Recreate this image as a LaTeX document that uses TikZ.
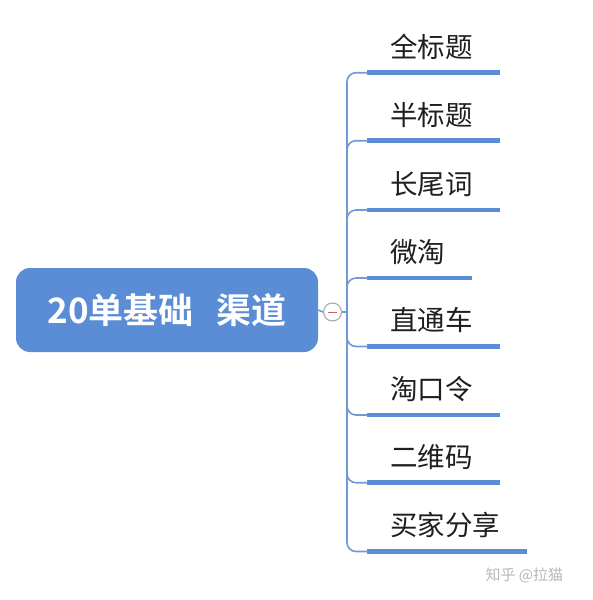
\documentclass[tikz,border=0pt]{standalone}
\usepackage{fontspec}
\newfontfamily\cjk{Noto Sans CJK SC}
\newfontfamily\cjkbold{Noto Sans CJK SC Bold}
\definecolor{mainblue}{HTML}{5A8DD6}
\definecolor{linkblue}{HTML}{7099D6}
\definecolor{ringgray}{HTML}{9AA6BC}
\definecolor{minusred}{HTML}{D06060}
\tikzset{
  rootbox/.style={fill=mainblue, draw=none, rounded corners=14pt, minimum width=302pt, minimum height=84pt, inner sep=0pt, text=white, font=\cjkbold\fontsize{35}{35}\selectfont},
  topic/.style={anchor=south west, minimum height=54pt, inner ysep=0pt, inner xsep=0pt, text depth=0pt, font=\cjk\fontsize{27.5}{27.5}\selectfont, text=black!88},
  bar/.style={draw=mainblue, line width=4.5pt},
  link/.style={draw=linkblue, line width=1.6pt, rounded corners=9pt},
  ring/.style={circle, draw=ringgray, line width=1pt, fill=white, minimum size=18pt, inner sep=0pt},
}
\begin{document}
\begin{tikzpicture}[x=1pt,y=-1pt]
\useasboundingbox (0,0) rectangle (593,600);
\node[rootbox] (root) at (167,310) {20单基础\hspace{0.65em}渠道};
\coordinate (hub) at (347,312);
\node[ring] (col) at (332.5,312) {};
\draw[minusred, line width=1pt] ([xshift=-4.5pt]col.center) -- ([xshift=4.5pt]col.center);
\def\tpc#1#2#3#4{%
  \node[topic, minimum width=#3pt] (#1) at (367,#2) {\makebox[#3pt][l]{\hspace{23pt}#4}};
  \draw[bar] (#1.south west) -- (#1.south east);
  \draw[link] (hub) |- ([xshift=1pt]#1.south west);
}
\draw[link] (root.east) -- (col.west);
\draw[link] (col.east) -- (hub);
\tpc{t1}{72.7}{133}{全标题}
\tpc{t2}{140.7}{133}{半标题}
\tpc{t3}{210}{133}{长尾词}
\tpc{t4}{278}{105}{微淘}
\tpc{t5}{346.5}{133}{直通车}
\tpc{t6}{415}{133}{淘口令}
\tpc{t7}{482.7}{133}{二维码}
\tpc{t8}{551.5}{160}{买家分享}
\node[font=\cjk\fontsize{15}{15}\selectfont, text=black!28, anchor=west] (wm) at (482,575) {知乎 @拉猫};
\end{tikzpicture}
\end{document}
